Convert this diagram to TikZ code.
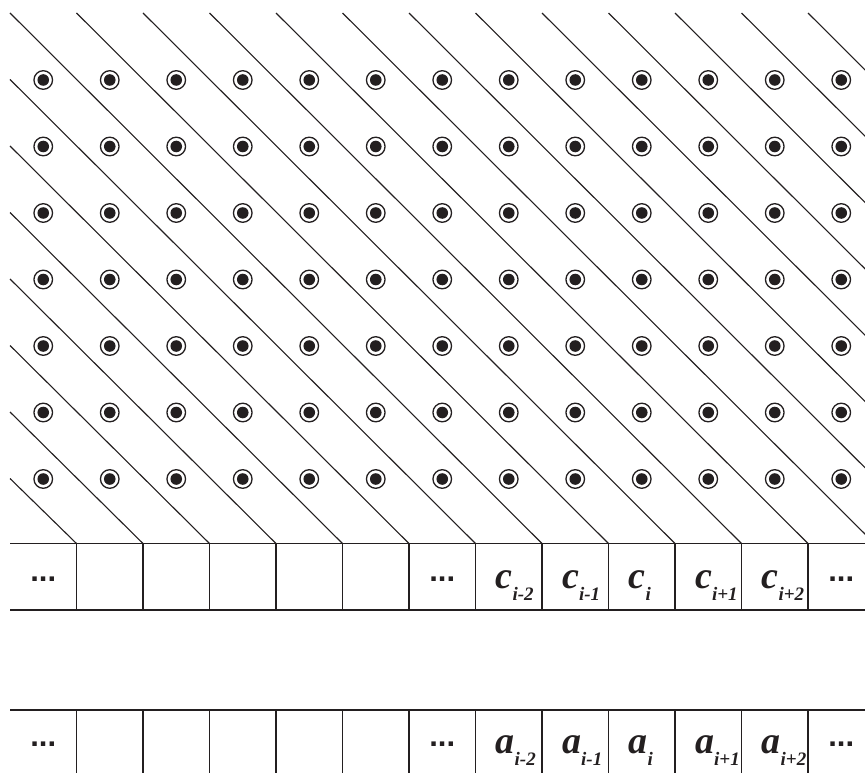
\documentclass[tikz,border=0pt]{standalone}
\usepackage{fontspec}
\setmainfont{Liberation Serif}
\newfontfamily\dotsfont{Liberation Sans}
\definecolor{ink}{HTML}{231F20}
\newcommand\lblsub[2]{#1\raisebox{-12pt}{\fontsize{19}{19}\selectfont #2}}
\tikzset{
  diag/.style={draw=ink, line width=1.1pt},
  rowline/.style={draw=ink, line width=1.4pt},
  dotnode/.style={circle, draw=ink, line width=1.3pt, minimum size=18.6pt, inner sep=0pt,
    path picture={\fill[ink] (path picture bounding box.center) circle (5.8pt);}},
  letter/.style={inner sep=0pt, anchor=base west, text=ink,
    font=\fontsize{38}{38}\selectfont\bfseries\itshape},
  ellip/.style={inner sep=0pt, anchor=base, text=ink,
    font=\fontsize{31}{31}\selectfont\dotsfont\bfseries}
}
\begin{document}
\begin{tikzpicture}[x=1pt,y=-1pt]
\useasboundingbox (0,0) rectangle (865,773);
\clip (0,0) rectangle (865,773);
\def\u{66.5}
% diagonal lines
\foreach \k in {1,...,7}
  \draw[diag] (10,{13+\k*\u}) -- ({10+(8-\k)*\u},543.5);
\foreach \m in {0,...,12}
  \draw[diag] ({10+\m*\u},13) -- ({10+(8+\m)*\u},543.5);
% dots
\foreach \r in {0,...,6}
  \foreach \j in {0,...,12}
    \node[dotnode] (d-\r-\j) at ({43.25+\j*\u},{80+\r*\u}) {};
% upper row of cells
\draw[rowline] (10,543.5) -- (865,543.5);
\draw[rowline] (10,610) -- (865,610);
\foreach \n in {1,...,12}
  \draw[rowline] ({10+\n*\u},543.5) -- ({10+\n*\u},610);
% lower row of cells
\draw[rowline] (10,710) -- (865,710);
\foreach \n in {1,...,12}
  \draw[rowline] ({10+\n*\u},710) -- ({10+\n*\u},780);
% ellipses
\node[ellip] (ce1) at ({10+0.5*\u},581) {...};
\node[ellip] (ce2) at ({10+6.5*\u},581) {...};
\node[ellip] (ce3) at ({10+12.5*\u},581) {...};
\node[ellip] (ae1) at ({10+0.5*\u},746) {...};
\node[ellip] (ae2) at ({10+6.5*\u},746) {...};
\node[ellip] (ae3) at ({10+12.5*\u},746) {...};
% c labels
\node[letter] (cm2) at ({10+7*\u+20},588) {\lblsub{c}{i-2}};
\node[letter] (cm1) at ({10+8*\u+20},588) {\lblsub{c}{i-1}};
\node[letter] (c0)  at ({10+9*\u+20},588) {\lblsub{c}{i}};
\node[letter] (cp1) at ({10+10*\u+20},588) {\lblsub{c}{i+1}};
\node[letter] (cp2) at ({10+11*\u+20},588) {\lblsub{c}{i+2}};
% a labels
\node[letter] (am2) at ({10+7*\u+20},753) {\lblsub{a}{i-2}};
\node[letter] (am1) at ({10+8*\u+20},753) {\lblsub{a}{i-1}};
\node[letter] (a0)  at ({10+9*\u+20},753) {\lblsub{a}{i}};
\node[letter] (ap1) at ({10+10*\u+20},753) {\lblsub{a}{i+1}};
\node[letter] (ap2) at ({10+11*\u+20},753) {\lblsub{a}{i+2}};
\end{tikzpicture}
\end{document}
